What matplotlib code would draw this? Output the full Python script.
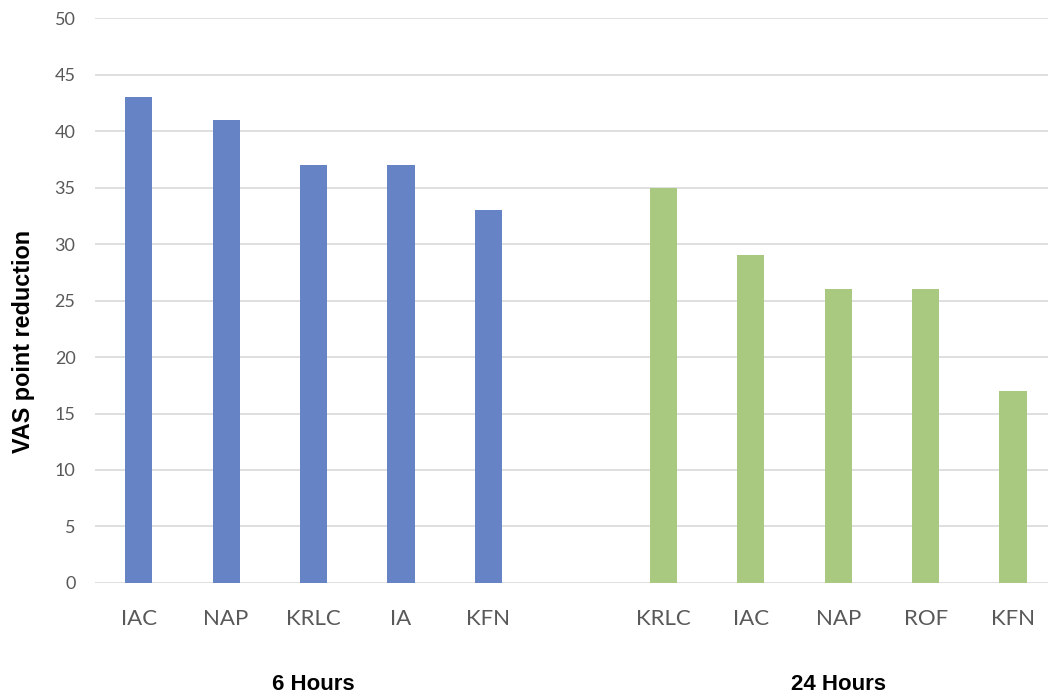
import matplotlib.pyplot as plt

# VAS reduction by drug, two time points
labels_6h = ['IAC', 'NAP', 'KRLC', 'IA', 'KFN']
values_6h = [43, 41, 37, 37, 33]
labels_24h = ['KRLC', 'IAC', 'NAP', 'ROF', 'KFN']
values_24h = [35, 29, 26, 26, 17]
group_names = ['6 Hours', '24 Hours']

blue = '#6683C6'
green = '#A9C980'

fig = plt.figure(figsize=(10.48, 6.96), dpi=100)
ax = fig.add_axes([0.0906, 0.1624, 0.9094, 0.8116])

# one empty slot between the two groups
x6 = list(range(len(labels_6h)))
x24 = [len(labels_6h) + 1 + i for i in range(len(labels_24h))]

ax.bar(x6, values_6h, width=0.31, color=blue, zorder=2)
ax.bar(x24, values_24h, width=0.31, color=green, zorder=2)

ax.set_ylim(0, 50)
ax.set_yticks(range(0, 51, 5))
ax.set_xlim(-0.5, x24[-1] + 0.4)
ax.set_xticks(x6 + x24)
ax.set_xticklabels(labels_6h + labels_24h, fontsize=16, family='Lato', color='#595959')
ax.tick_params(axis='y', labelsize=13, labelcolor='#595959', length=0, pad=14)
ax.tick_params(axis='x', length=0, pad=19)
for lab in ax.get_yticklabels():
    lab.set_family('Lato')

ax.grid(axis='y', color='#D9D9D9', linewidth=1.2, zorder=0)
for s in ax.spines.values():
    s.set_visible(False)

ax.set_ylabel('VAS point reduction', fontsize=16.8, fontweight='bold',
              family='Liberation Sans')
ax.yaxis.set_label_coords(-0.063, 0.427)

# group captions under the category labels
centers = [sum(x6) / len(x6), sum(x24) / len(x24)]
for c, name in zip(centers, group_names):
    ax.text(c, -0.18, name, transform=ax.get_xaxis_transform(), ha='center', va='center',
            fontsize=16, fontweight='bold', family='Liberation Sans')

fig.savefig('out.png', dpi=100)
